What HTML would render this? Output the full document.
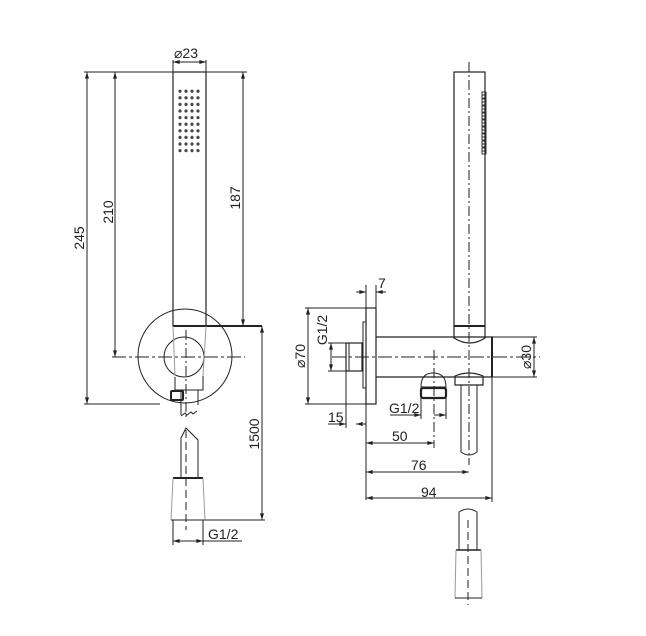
<!DOCTYPE html>
<html><head><meta charset="utf-8"><style>
html,body{margin:0;padding:0;background:#fff;}
svg{display:block;}
text{font-family:"Liberation Sans",sans-serif;font-size:14px;fill:#222;}
</style></head><body>
<svg width="646" height="636" viewBox="0 0 646 636" xmlns="http://www.w3.org/2000/svg">
<defs>
<marker id="a" viewBox="0 0 10 6" refX="10" refY="3" markerWidth="8" markerHeight="4" orient="auto-start-reverse"><path d="M0,0 L10,3 L0,6 z" fill="#222"/></marker>
<pattern id="holes" x="178" y="89" width="6" height="6.6" patternUnits="userSpaceOnUse"><circle cx="2" cy="2.2" r="1.6" fill="#444"/></pattern>
</defs>
<g fill="none" stroke="#222" stroke-width="1">
<!-- LEFT VIEW -->
<rect x="173" y="72" width="33" height="254" stroke-width="1.2"/>
<rect x="177" y="89" width="24" height="66" fill="url(#holes)" stroke="none"/>
<line x1="173" y1="326" x2="262" y2="326" stroke-width="2"/>
<circle cx="185" cy="356" r="47"/>
<circle cx="184" cy="357" r="20"/>
<line x1="173" y1="326" x2="175" y2="376" stroke="#999"/>
<line x1="206" y1="326" x2="203" y2="376" stroke="#999"/>
<polyline points="175,377 175,390 203,390 203,376"/>
<rect x="171" y="391" width="12" height="9" rx="1" stroke-width="2"/>
<line x1="181" y1="390" x2="181" y2="415"/><line x1="198" y1="390" x2="198" y2="405"/>
<path d="M181,416 l4,-3 l2,2 l4,-3 l2,2 l4,-3"/>
<path d="M181,478 L181,438 L186,428 L198,440 L198,478"/>
<line x1="173" y1="478" x2="203" y2="478" stroke-width="2"/>
<path d="M173,478 L171,520 M203,478 L205,520" stroke="#999"/>
<line x1="171" y1="520" x2="265" y2="520"/>
<line x1="186" y1="330" x2="186" y2="420" stroke-dasharray="10,3,2,3"/>
<line x1="186" y1="430" x2="186" y2="530" stroke-dasharray="8,4"/>
<line x1="112" y1="357" x2="245" y2="357" stroke-dasharray="14,3,3,3"/>
<!-- dims left -->
<line x1="84" y1="72" x2="247" y2="72"/>
<line x1="84" y1="404" x2="160" y2="404"/>
<line x1="87" y1="72" x2="87" y2="404" marker-start="url(#a)" marker-end="url(#a)"/>
<line x1="115" y1="72" x2="115" y2="357" marker-start="url(#a)" marker-end="url(#a)"/>
<line x1="243" y1="72" x2="243" y2="326" marker-start="url(#a)" marker-end="url(#a)"/>
<line x1="262" y1="326" x2="262" y2="520" marker-start="url(#a)" marker-end="url(#a)"/>
<line x1="173" y1="60" x2="173" y2="72"/><line x1="206" y1="60" x2="206" y2="72"/>
<line x1="173" y1="62" x2="206" y2="62" marker-start="url(#a)" marker-end="url(#a)"/>
<line x1="173" y1="520" x2="173" y2="545"/><line x1="203" y1="520" x2="203" y2="545"/>
<line x1="173" y1="541" x2="242" y2="541" marker-start="url(#a)"/>
<line x1="203" y1="541" x2="190" y2="541" marker-start="url(#a)"/>
<!-- RIGHT VIEW -->
<rect x="454" y="72" width="31" height="254" stroke-width="1.2"/>
<line x1="454" y1="326" x2="485" y2="326" stroke-width="2"/>
<path d="M454,326 L454,338 Q470,348 485,338 L485,326" stroke-width="1.2"/>
<g stroke-width="0.9">
<rect x="482" y="92" width="4" height="3"/><rect x="482" y="95" width="4" height="3"/><rect x="482" y="99" width="4" height="3"/><rect x="482" y="102" width="4" height="3"/><rect x="482" y="106" width="4" height="3"/><rect x="482" y="109" width="4" height="3"/><rect x="482" y="113" width="4" height="3"/><rect x="482" y="116" width="4" height="3"/><rect x="482" y="120" width="4" height="3"/><rect x="482" y="123" width="4" height="3"/><rect x="482" y="127" width="4" height="3"/><rect x="482" y="130" width="4" height="3"/><rect x="482" y="134" width="4" height="3"/><rect x="482" y="137" width="4" height="3"/><rect x="482" y="141" width="4" height="3"/><rect x="482" y="144" width="4" height="3"/><rect x="482" y="148" width="4" height="3"/><rect x="482" y="151" width="4" height="3"/>
</g>
<rect x="366" y="308" width="10" height="96" stroke-width="1.2"/>
<rect x="363" y="322" width="3" height="66"/>
<rect x="346" y="343" width="16" height="28" stroke-width="1.2"/>
<line x1="349" y1="343" x2="349" y2="371"/>
<path d="M376,337 L492,337 L492,377 L376,377" stroke-width="1.2"/>
<line x1="492" y1="337" x2="492" y2="377" stroke-width="2"/>
<path d="M421,387 Q421,373 433,373 Q446,373 446,387 Z"/>
<rect x="421" y="388" width="25" height="10" rx="2" stroke-width="2.2"/>
<path d="M455,385 L455,376 Q469,370 483,376 L483,385 Z" stroke-width="1.2"/>
<path d="M461,385 L461,452 Q469,458 477,452 L477,385"/>
<line x1="469" y1="62" x2="469" y2="465" stroke-dasharray="10,3,2,3"/>
<line x1="434" y1="350" x2="434" y2="448" stroke-dasharray="10,3,2,3"/>
<line x1="332" y1="357" x2="540" y2="357" stroke-dasharray="14,3,3,3"/>
<path d="M459,550 L459,512 Q468,506 477,512 L477,550"/>
<line x1="456" y1="550" x2="481" y2="550" stroke-width="1.6"/>
<path d="M456,550 L455,598 M481,550 L482,598" stroke="#999"/>
<line x1="455" y1="598" x2="482" y2="598"/>
<line x1="468" y1="520" x2="468" y2="605" stroke-dasharray="8,4"/>
<!-- dims right -->
<line x1="366" y1="285" x2="366" y2="500"/>
<line x1="376" y1="285" x2="376" y2="308"/>
<line x1="356" y1="292" x2="366" y2="292" marker-end="url(#a)"/>
<line x1="386" y1="292" x2="376" y2="292" marker-end="url(#a)"/>
<line x1="305" y1="308" x2="366" y2="308"/><line x1="305" y1="404" x2="366" y2="404"/>
<line x1="308" y1="308" x2="308" y2="404" marker-start="url(#a)" marker-end="url(#a)"/>
<line x1="328" y1="343" x2="346" y2="343"/><line x1="328" y1="371" x2="346" y2="371"/>
<line x1="331" y1="343" x2="331" y2="371" marker-start="url(#a)" marker-end="url(#a)"/>
<line x1="492" y1="337" x2="537" y2="337"/><line x1="492" y1="377" x2="537" y2="377"/>
<line x1="534" y1="337" x2="534" y2="377" marker-start="url(#a)" marker-end="url(#a)"/>
<line x1="346" y1="371" x2="346" y2="428"/>
<line x1="328" y1="424" x2="346" y2="424" marker-end="url(#a)"/>
<line x1="366" y1="424" x2="356" y2="424" marker-end="url(#a)"/>
<line x1="421" y1="398" x2="421" y2="419"/><line x1="446" y1="398" x2="446" y2="419"/>
<line x1="390" y1="415" x2="421" y2="415" marker-end="url(#a)"/>
<line x1="446" y1="415" x2="434" y2="415" marker-start="url(#a)"/>
<line x1="366" y1="443" x2="434" y2="443" marker-start="url(#a)" marker-end="url(#a)"/>
<line x1="366" y1="472" x2="469" y2="472" marker-start="url(#a)" marker-end="url(#a)"/>
<line x1="492" y1="377" x2="492" y2="502"/>
<line x1="366" y1="498" x2="492" y2="498" marker-start="url(#a)" marker-end="url(#a)"/>
</g>
<!-- labels -->
<text x="174" y="58">⌀23</text>
<text transform="translate(84,238) rotate(-90)" text-anchor="middle">245</text>
<text transform="translate(113,212) rotate(-90)" text-anchor="middle">210</text>
<text transform="translate(240,198) rotate(-90)" text-anchor="middle">187</text>
<text transform="translate(259,434) rotate(-90)" text-anchor="middle">1500</text>
<text x="208" y="539">G1/2</text>
<text x="378" y="288">7</text>
<text transform="translate(305,356) rotate(-90)" text-anchor="middle">⌀70</text>
<text transform="translate(327,330) rotate(-90)" text-anchor="middle">G1/2</text>
<text transform="translate(531,357) rotate(-90)" text-anchor="middle">⌀30</text>
<text x="328" y="422">15</text>
<text x="389" y="413">G1/2</text>
<text x="392" y="441">50</text>
<text x="411" y="470">76</text>
<text x="421" y="497">94</text>
</svg>
</body></html>
